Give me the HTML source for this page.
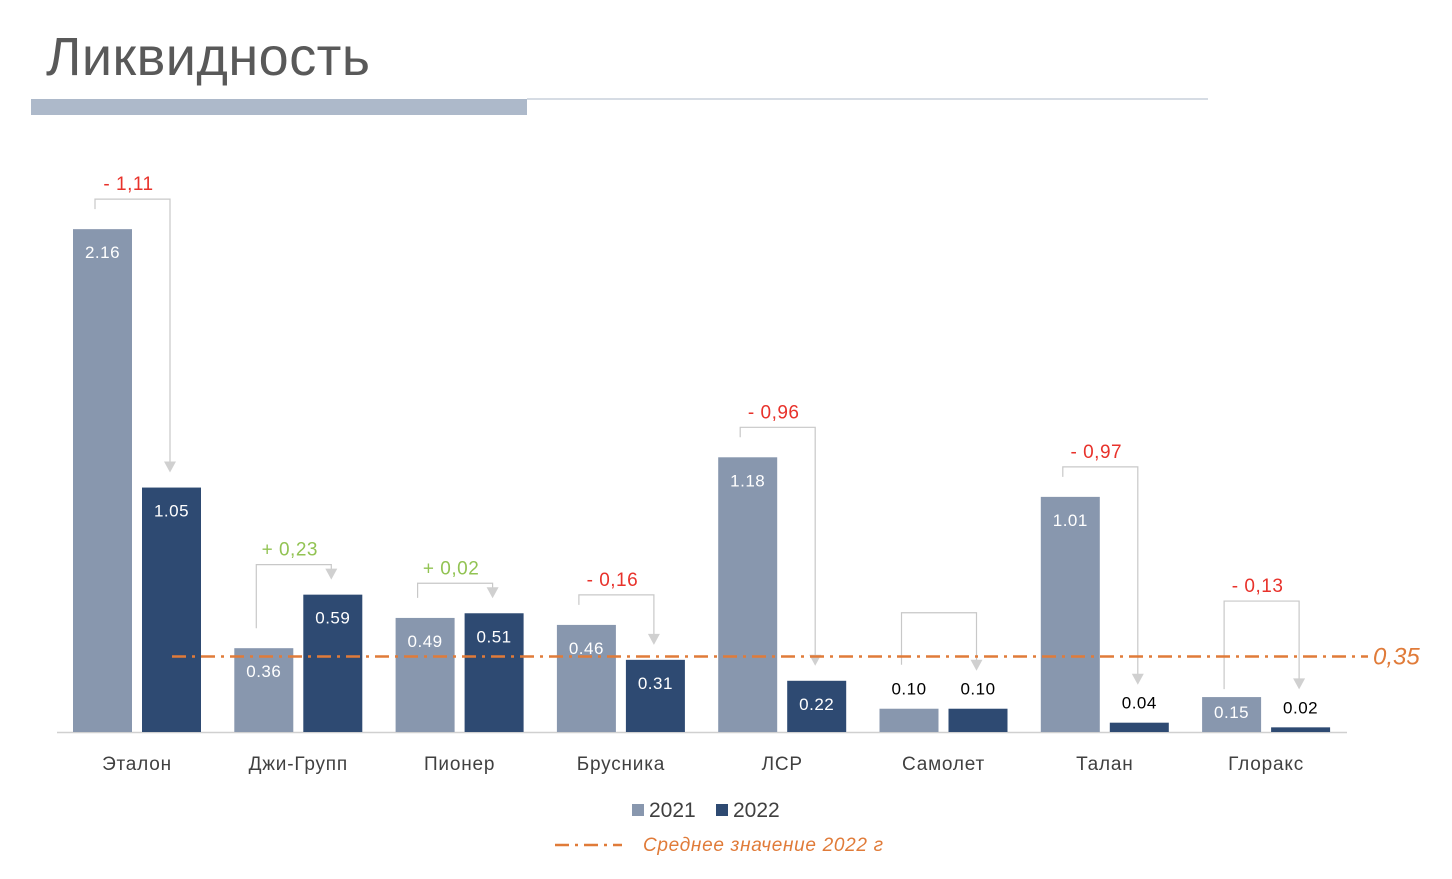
<!DOCTYPE html>
<html><head><meta charset="utf-8">
<style>
body{margin:0;background:#fff;width:1452px;height:874px;overflow:hidden;font-family:"Liberation Sans","DejaVu Sans",sans-serif}
</style></head><body>
<svg id="chart" width="1452" height="874" xmlns="http://www.w3.org/2000/svg">
<text x="46" y="75" font-size="54" fill="#595959" textLength="324">Ликвидность</text>
<rect x="31" y="99" width="496" height="16" fill="#adb9ca"/>
<line x1="527" y1="99" x2="1208" y2="99" stroke="#adb9ca" stroke-width="1"/>
<line x1="57" y1="732.5" x2="1347" y2="732.5" stroke="#d0d0d0" stroke-width="1.5"/>
<g id="marks"></g>
<rect x="632" y="804" width="12" height="12" fill="#8897ae"/>
<text x="649" y="817" font-size="21" fill="#404040">2021</text>
<rect x="716" y="804" width="12" height="12" fill="#2e4a72"/>
<text x="733" y="817" font-size="21" fill="#404040">2022</text>
<line x1="555" y1="845" x2="622" y2="845" stroke="#e07b39" stroke-width="2.5" stroke-dasharray="14,6,3,6"/>
<text x="643" y="851" font-size="19" font-style="italic" fill="#e07b39" textLength="240">Среднее значение 2022 г</text>
</svg>
<script>
const categories=["Эталон","Джи-Групп","Пионер","Брусника","ЛСР","Самолет","Талан","Глоракс"];
const values2021=[2.16,0.36,0.49,0.46,1.18,0.10,1.01,0.15];
const values2022=[1.05,0.59,0.51,0.31,0.22,0.10,0.04,0.02];
const deltaLabels=["- 1,11","+ 0,23","+ 0,02","- 0,16","- 0,96","","- 0,97","- 0,13"];
const meanValue=0.35;
const meanLabel="0,35";
const NS="http://www.w3.org/2000/svg";
const g=document.getElementById('marks');
const base=732, scale=232.8;
const y=v=>base-v*scale;
const xc=i=>137+i*161.3;
function mk(tag,attrs,parent){const e=document.createElementNS(NS,tag);for(const k in attrs)e.setAttribute(k,attrs[k]);(parent||g).appendChild(e);return e;}
const fmt=v=>v.toFixed(2);
categories.forEach((c,i)=>{
  const cx=xc(i);
  const x1=cx-64,x2=cx+5,w=59;
  const t1=y(values2021[i]),t2=y(values2022[i]);
  const in1=(base-t1)>30,in2=(base-t2)>30;
  const b1=mk('rect',{x:x1,y:t1,width:w,height:base-t1,fill:'#8897ae'});
  
  
  const b2=mk('rect',{x:x2,y:t2,width:w,height:base-t2,fill:'#2e4a72'});
  
  
  [[values2021[i],x1,t1,'2021',in1],[values2022[i],x2,t2,'2022',in2]].forEach(([v,x,t,yr,inside])=>{
    const l=mk('text',{x:x+w/2,y:inside?Math.min(t+29,base-14):t-14,'font-size':17,'text-anchor':'middle',fill:inside?'#fff':'#000','letter-spacing':'0.5'});
    l.textContent=fmt(v);
    
    
  });
  const lx=x1+22,rx=x2+28;
  const top=Math.min(t1,t2);
  const by=top>680?top-96:(top>650?top-73:top-30);
  const lEnd=in1?(base-t1<40?t1-8:t1-20):t1-44;
  const tip=in2?t2-15:t2-38;
  const p=mk('path',{d:`M${lx},${lEnd} V${by} H${rx} V${tip-10}`,fill:'none',stroke:'#c8c8c8','stroke-width':1.2});
  
  
  const a=mk('path',{d:`M${rx-6},${tip-11} L${rx+6},${tip-11} L${rx},${tip}Z`,fill:'#d0d0d0'});
  
  
  if(deltaLabels[i]){
    const d=mk('text',{x:(lx+rx)/2-4,y:by-9,'font-size':19,'text-anchor':'middle',fill:deltaLabels[i][0]=='+'?'#92c353':'#e8322b','letter-spacing':'0.5'});
    d.textContent=deltaLabels[i];
    
    
  }
  const cl=mk('text',{x:cx,y:770,'font-size':19,'text-anchor':'middle',fill:'#404040','letter-spacing':'0.8'});
  cl.textContent=c;
  
  
});
const my=y(meanValue)+6;
const ml=mk('line',{x1:172,y1:my,x2:1368,y2:my,stroke:'#e07b39','stroke-width':2.5,'stroke-dasharray':'14,6,3,6'});


const mt=mk('text',{x:1373,y:my+8,'font-size':24,'font-style':'italic',fill:'#e07b39'});
mt.textContent=meanLabel;


</script>
</body></html>
